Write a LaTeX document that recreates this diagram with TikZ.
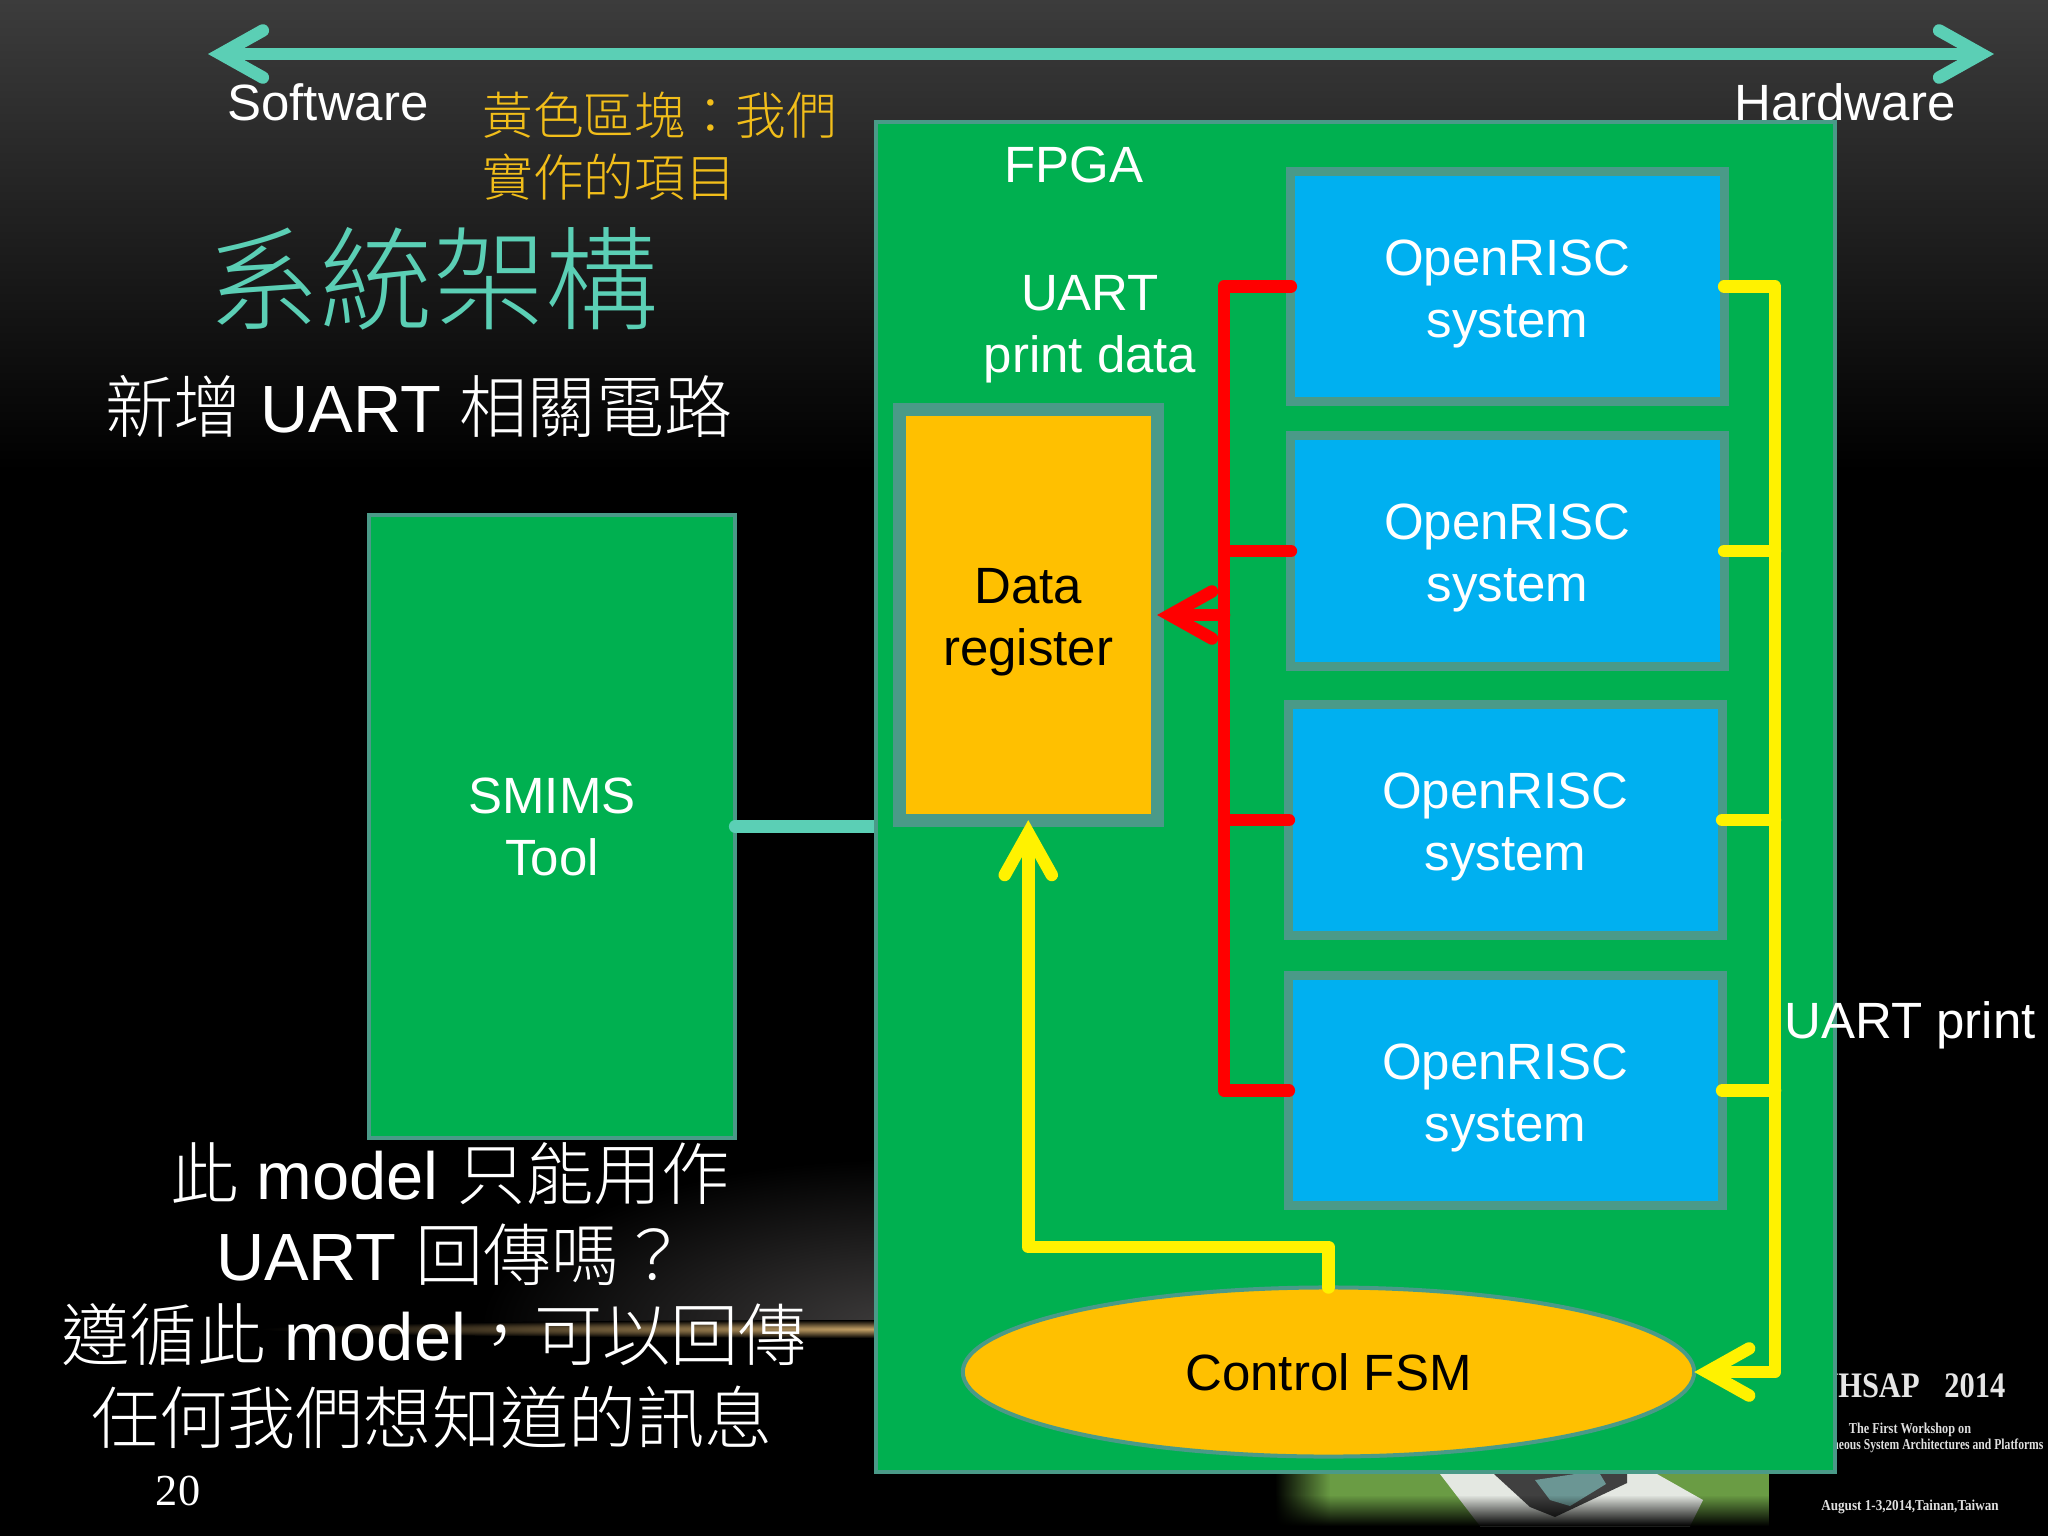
\documentclass[tikz,border=0pt]{standalone}
\usepackage{fontspec}
\setmainfont{Liberation Sans}
\newfontfamily\cjk{Noto Sans CJK TC Light}
\newfontfamily\cjkb[Scale=1.02]{Noto Sans CJK TC Light}
\newfontfamily\numfont{Liberation Serif}
\usetikzlibrary{arrows.meta, shapes.geometric, fadings}

\definecolor{fpgagreen}{HTML}{00B050}
\definecolor{edgeteal}{HTML}{4A9A88}
\definecolor{mint}{HTML}{5BCFB5}
\definecolor{sysblue}{HTML}{00B0F0}
\definecolor{regorange}{HTML}{FFC000}
\definecolor{noteyellow}{HTML}{F2BE1A}
\definecolor{bgtop}{HTML}{3C3C3C}
\definecolor{streak}{HTML}{C8A468}
\definecolor{haze}{HTML}{3E3C3C}
\definecolor{grass}{HTML}{6A9C44}
\definecolor{pave}{HTML}{E4E8E2}
\definecolor{slab}{HTML}{6B9694}

\begin{document}
\begin{tikzpicture}[x=0.01cm,y=-0.01cm,>={Straight Barb[line cap=round,line join=miter,length=0.42cm,width=0.47cm]}]
    \tikzstyle{lbl}=[font=\fontsize{14.5}{17.6}\selectfont,align=center,inner sep=0,text=white]
    \tikzstyle{big}=[font=\fontsize{19}{23}\selectfont,inner sep=0,text=white]
    \tikzstyle{tiny}=[font=\numfont\bfseries\fontsize{4.3}{5}\selectfont,inner sep=0,text=white!88!black,anchor=base]
    \tikzstyle{fpgabox}=[draw=edgeteal,fill=fpgagreen,line width=0.04cm,outer sep=0,inner sep=0]
    \tikzstyle{sysbox}=[draw=edgeteal,fill=sysblue,line width=0.09cm,minimum width=4.33cm,minimum height=2.3cm,outer sep=0,inner sep=0,lbl]
    \tikzstyle{wire}=[line width=0.125cm,line cap=round,line join=round]
    \tikzstyle{rline}=[wire,red]
    \tikzstyle{yline}=[wire,yellow]
    \tikzstyle{tline}=[wire,mint]

    \def\low{\rule{0pt}{14.2pt}}

    \useasboundingbox (0,0) rectangle (2048,1536);
    \fill[black] (0,0) rectangle (2048,1536);
    \shade[top color=bgtop,bottom color=black] (0,0) rectangle (2048,470);

    % glow behind the slide
    \begin{scope}
        \clip (300,1000) rectangle (900,1329);
        \shade[inner color=haze,outer color=black] (900,1329) ellipse (420 and 170);
    \end{scope}
    \shade[inner color=streak,outer color=black] (900,1329) ellipse (640 and 9);

    % conference picture in the corner
    \fill[grass] (1275,1474) rectangle (1769,1526);
    \fill[pave] (1440,1474) -- (1657,1474) -- (1703,1500) -- (1690,1526) -- (1480,1526) -- cycle;
    \fill[black!75] (1494,1474) -- (1530,1507) -- (1555,1517) -- (1627,1483) -- (1627,1474) -- cycle;
    \fill[slab] (1535,1480) -- (1550,1500) -- (1570,1506) -- (1606,1484) -- (1600,1474) -- (1575,1474) -- cycle;
    \fill[black,path fading=east] (1275,1474) rectangle (1330,1526);
    \fill[black,path fading=north] (1275,1495) rectangle (1769,1526);

    \node[font=\numfont\bfseries\fontsize{10.2}{12}\selectfont,text=white!90!black,inner sep=0,anchor=base east,xscale=0.85] (wh) at (2006,1397) {WHSAP\hspace{8.3pt}2014};
    \node[tiny,xscale=0.81] (ws) at (1910,1433) {The First Workshop on};
    \node[tiny,anchor=base east,xscale=0.77] (ha) at (2044,1449) {Heterogeneous System Architectures and Platforms};
    \node[tiny,xscale=0.87] (dt) at (1910,1510) {August 1-3,2014,Tainan,Taiwan};

    % arrow on top
    \coordinate (swend) at (208,54);
    \coordinate (hwend) at (1994,54);
    \draw[tline,<->] (swend) -- (hwend);
    \node[lbl,anchor=base] (sw) at (328,120) {Software};
    \node[lbl,anchor=base] (hw) at (1845,120) {Hardware};
    \node[lbl,anchor=west,align=left,text=noteyellow,font=\cjk\fontsize{14.4}{17.6}\selectfont] (note) at (482,146) {黃色區塊：我們\\實作的項目};

    \node[inner sep=0,text=mint,font=\cjk\fontsize{32}{36}\selectfont] (title) at (433,279) {系統架構};
    \node[big] (sub) at (419,407) {{\cjkb 新增} UART {\cjkb 相關電路}};

    \node[big] (qa) at (450,1174) {{\cjkb 此} model {\cjkb 只能用作}};
    \node[big] (qb) at (452,1255) {UART {\cjkb 回傳嗎？}};
    \node[big] (qc) at (434,1335) {{\cjkb 遵循此} model{\cjkb ，可以回傳}};
    \node[big] (qd) at (432,1417) {\cjkb 任何我們想知道的訊息};
    \node[inner sep=0,text=white,anchor=base,font=\numfont\fontsize{12.6}{14}\selectfont] (pg) at (178,1505) {20};

    % tool and link
    \node[fpgabox,minimum width=3.66cm,minimum height=6.23cm,lbl] (tool) at (552,826.5) {SMIMS\\Tool};
    \coordinate (fpgaleft) at (880,826.5);
    \draw[tline] (tool.east) -- (fpgaleft);

    % FPGA
    \node[fpgabox,minimum width=9.59cm,minimum height=13.5cm] (fpga) at (1355.5,797) {};
    \node[lbl,anchor=base] (fl) at (1074,182) {FPGA};
    \node[lbl] (pd) at (1090,329) {UART\\print data};
    \node[lbl] (up) at (1910,1025) {UART print};

    \node[sysbox] (sys1) at (1507.5,286.5) {\low OpenRISC\\system};
    \node[sysbox] (sys2) at (1507.5,551) {\low OpenRISC\\system};
    \node[sysbox] (sys3) at (1505.5,820) {\low OpenRISC\\system};
    \node[sysbox] (sys4) at (1505.5,1090.5) {\low OpenRISC\\system};

    \node[draw=edgeteal,fill=regorange,line width=0.13cm,minimum width=2.575cm,minimum height=4.1cm,outer sep=0,inner sep=0,lbl,text=black] (reg) at (1028.25,615) {\low Data\\register};
    \node[ellipse,draw=edgeteal,fill=regorange,line width=0.04cm,minimum width=7.31cm,minimum height=1.69cm,outer sep=0,inner sep=0,lbl,text=black] (fsm) at (1328.5,1372) {Control FSM};

    % buses
    \coordinate (rtop) at (1224,286.5);
    \coordinate (rbot) at (1224,1090.5);
    \coordinate (ytop) at (1775,286.5);
    \coordinate (ybot) at (1775,1372);
    \coordinate (yup) at (1328.5,1247);

    \draw[rline] (sys1.west) -- (rtop) -- (rbot) -- (sys4.west);
    \foreach \s in {sys2,sys3} {
        \draw[rline] (\s.west) -- (\s.west -| rtop);
        \draw[yline] (\s.east) -- (\s.east -| ytop);
    }
    \draw[rline,<-] (reg.east) -- (reg.east -| rtop);

    \draw[yline] (sys4.east) -- (sys4.east -| ytop);
    \draw[yline,->] (sys1.east) -- (ytop) -- (ybot) -- (fsm.east);
    \draw[yline,->] (fsm.north) -- (yup) -- (yup -| reg.south) -- (reg.south);

\end{tikzpicture}
\end{document}
